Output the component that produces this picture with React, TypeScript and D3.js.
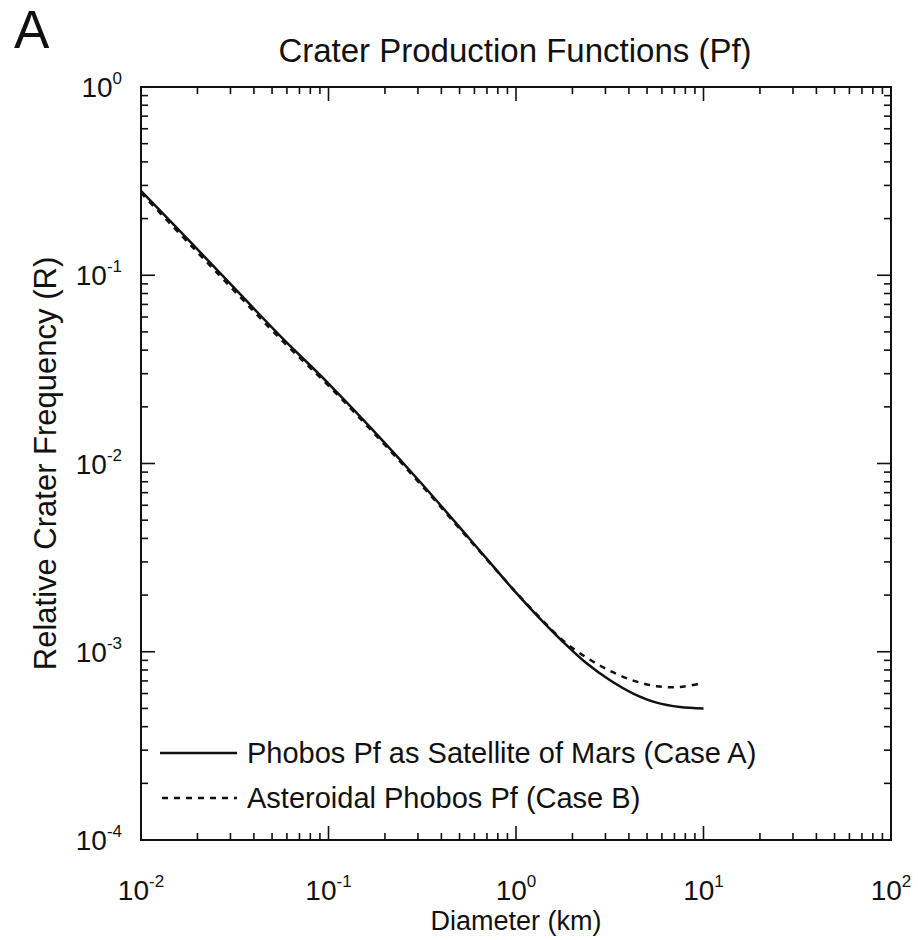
import React from "react";
import * as d3 from "d3";

// Diameters (km) sampled along the curves
const diameters = [0.01, 0.0178, 0.0316, 0.0562, 0.1, 0.178, 0.316, 0.562, 1.0, 1.33, 1.78, 2.37, 3.16, 4.22, 5.62, 7.5, 10];
// Case A: Phobos Pf as satellite of Mars
const caseA = [0.281, 0.155, 0.0851, 0.0468, 0.0266, 0.01456, 0.00776, 0.00401, 0.00206, 0.001514, 0.00113, 0.000871, 0.000708, 0.0006, 0.000537, 0.000509, 0.0005];
// Case B: Asteroidal Phobos Pf
const caseB = [0.274, 0.1496, 0.0822, 0.0452, 0.0259, 0.0142, 0.00759, 0.00395, 0.00207, 0.001531, 0.001148, 0.000933, 0.000794, 0.000703, 0.000656, 0.00065, 0.000684];

const xTickExps = [-2, -1, 0, 1, 2];
const yTickExps = [-4, -3, -2, -1, 0];

const title = "Crater Production Functions (Pf)";
const xTitle = "Diameter (km)";
const yTitle = "Relative Crater Frequency (R)";
const legendA = "Phobos Pf as Satellite of Mars (Case A)";
const legendB = "Asteroidal Phobos Pf (Case B)";
const panelLabel = "A";

const W = 918, H = 940;
const L = 141, R = 891, T = 87, B = 840;
const FONT = "'Liberation Sans', Arial, Helvetica, sans-serif";

export default function App() {
  const x = d3.scaleLog().domain([0.01, 100]).range([L, R]);
  const y = d3.scaleLog().domain([1e-4, 1]).range([B, T]);

  const minorX: number[] = [];
  for (let e = -2; e < 2; e++) for (let m = 2; m <= 9; m++) minorX.push(m * Math.pow(10, e));
  const minorY: number[] = [];
  for (let e = -4; e < 0; e++) for (let m = 2; m <= 9; m++) minorY.push(m * Math.pow(10, e));

  const line = d3.line<number>().x((_, i) => x(diameters[i])).y((v) => y(v)).curve(d3.curveCatmullRom.alpha(0.5));

  const majLen = 14, minLen = 7;

  return (
    <svg width={W} height={H} style={{ display: "block", position: "absolute", left: 0, top: 0, background: "#fff" }} fontFamily={FONT}>
      <rect x={0} y={0} width={W} height={H} fill="#fff" />
      <text x={14} y={48} fontSize={53} fill="#111">{panelLabel}</text>
      <text x={(L + R) / 2 - 1} y={62} fontSize={33} textAnchor="middle" fill="#111">{title}</text>

      {/* ticks */}
      <g stroke="#111" strokeWidth={1.6}>
        {xTickExps.map((e) => {
          const px = x(Math.pow(10, e));
          return (
            <g key={"xm" + e}>
              <line x1={px} x2={px} y1={B} y2={B - majLen} />
              <line x1={px} x2={px} y1={T} y2={T + majLen} />
            </g>
          );
        })}
        {minorX.map((v, i) => {
          const px = x(v);
          return (
            <g key={"xn" + i}>
              <line x1={px} x2={px} y1={B} y2={B - minLen} />
              <line x1={px} x2={px} y1={T} y2={T + minLen} />
            </g>
          );
        })}
        {yTickExps.map((e) => {
          const py = y(Math.pow(10, e));
          return (
            <g key={"ym" + e}>
              <line x1={L} x2={L + majLen} y1={py} y2={py} />
              <line x1={R} x2={R - majLen} y1={py} y2={py} />
            </g>
          );
        })}
        {minorY.map((v, i) => {
          const py = y(v);
          return (
            <g key={"yn" + i}>
              <line x1={L} x2={L + minLen} y1={py} y2={py} />
              <line x1={R} x2={R - minLen} y1={py} y2={py} />
            </g>
          );
        })}
      </g>
      <rect x={L} y={T} width={R - L} height={B - T} fill="none" stroke="#111" strokeWidth={2} />

      {/* tick labels */}
      {xTickExps.map((e) => (
        <text key={"xl" + e} x={x(Math.pow(10, e))} y={900} fontSize={28} textAnchor="middle" fill="#111">
          10<tspan dy={-13} fontSize={17}>{e}</tspan>
        </text>
      ))}
      {yTickExps.map((e) => (
        <text key={"yl" + e} x={122} y={y(Math.pow(10, e)) + 10} fontSize={28} textAnchor="end" fill="#111">
          10<tspan dy={-13} fontSize={17}>{e}</tspan>
        </text>
      ))}

      <text x={(L + R) / 2} y={930} fontSize={27} textAnchor="middle" fill="#111">{xTitle}</text>
      <text transform={`translate(56, ${(T + B) / 2}) rotate(-90)`} fontSize={31} textAnchor="middle" fill="#111">{yTitle}</text>

      {/* curves */}
      <path d={line(caseA) || ""} fill="none" stroke="#111" strokeWidth={2.5} />
      <path d={line(caseB) || ""} fill="none" stroke="#111" strokeWidth={2.5} strokeDasharray="6,6" />

      {/* legend */}
      <line x1={160} x2={237} y1={753} y2={753} stroke="#111" strokeWidth={2.5} />
      <text x={247} y={763} fontSize={29} fill="#111">{legendA}</text>
      <line x1={162} x2={237} y1={798} y2={798} stroke="#111" strokeWidth={2.5} strokeDasharray="6,6" />
      <text x={247} y={808} fontSize={29} fill="#111">{legendB}</text>
    </svg>
  );
}
